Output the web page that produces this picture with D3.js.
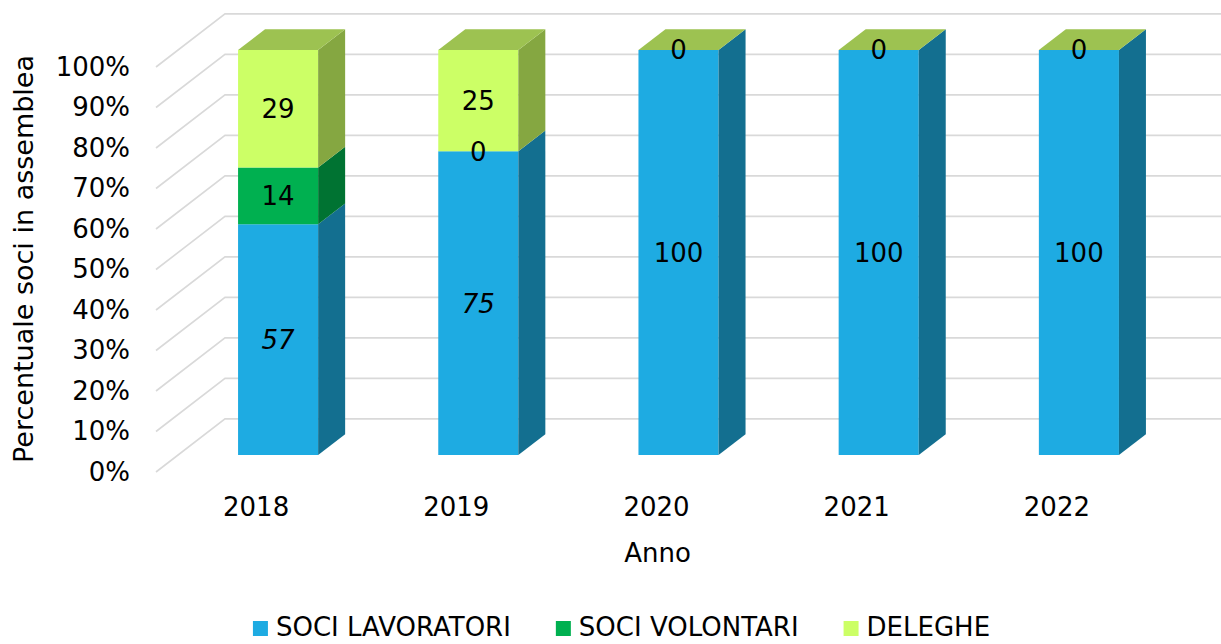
<!DOCTYPE html>
<html>
<head>
<meta charset="utf-8">
<script src="https://cdnjs.cloudflare.com/ajax/libs/d3/7.8.5/d3.min.js"></script>
<style>
  html, body { margin: 0; padding: 0; background: #fff; }
  svg { display: block; font-family: "DejaVu Sans", sans-serif; }
</style>
</head>
<body>
<div id="chart"></div>
<script>
// data
var years = ["2018", "2019", "2020", "2021", "2022"];
var seriesNames = ["SOCI LAVORATORI", "SOCI VOLONTARI", "DELEGHE"];
var sociLavoratori = [57, 75, 100, 100, 100];
var sociVolontari = [14, 0, 0, 0, 0];
var deleghe = [29, 25, 0, 0, 0];
var yTicks = [0, 10, 20, 30, 40, 50, 60, 70, 80, 90, 100];

var width = 1221,
    height = 644,
    frontLeft = 156,
    frontRight = 1157,
    front0 = 472,
    front100 = 67,
    wallDepth = 69,
    barFront = 22,
    barBack = 49,
    slope = 0.77,
    gridColor = "#d9d9d9",
    fontSize = 26;

// front, side, top colours per series
var colors = [
  { front: "#1eabe2", side: "#136f90", top: "#1585ae" },
  { front: "#00b050", side: "#007332", top: "#009040" },
  { front: "#ccff66", side: "#85a741", top: "#9dc251" }
];
// labels drawn in italic (series index, year)
var italicLabels = [[0, "2018"], [0, "2019"]];

var values = [sociLavoratori, sociVolontari, deleghe];

var svg = d3.select("#chart").append("svg")
  .attr("width", width)
  .attr("height", height);

var x = d3.scaleBand()
  .domain(years)
  .range([frontLeft, frontRight])
  .paddingInner(0.6)
  .paddingOuter(0.3);

var y = d3.scaleLinear()
  .domain([0, 100])
  .range([front0, front100]);

// project a point of the front plane back by depth d
function p(px, py, d) {
  return [px + d, py - d * slope];
}

// gridlines: diagonal on the side wall, then flat along the back wall
var grid = svg.append("g");
yTicks.forEach(function(t) {
  var a = p(frontLeft, y(t), 0),
      b = p(frontLeft, y(t), wallDepth);
  grid.append("path")
    .attr("d", "M" + a + "L" + b + "L" + width + "," + b[1])
    .attr("fill", "none")
    .attr("stroke", gridColor)
    .attr("stroke-width", 1.6);
});

// stacked data
var stacked = years.map(function(yr, i) {
  var acc = 0;
  return seriesNames.map(function(s, k) {
    var v = values[k][i];
    var seg = { year: yr, series: k, value: v, y0: acc, y1: acc + v };
    acc += v;
    return seg;
  });
});

var bars = svg.append("g");
stacked.forEach(function(segs) {
  var x0 = x(segs[0].year),
      x1 = x0 + x.bandwidth();
  var g = bars.append("g");
  segs.forEach(function(s) {
    var c = colors[s.series];
    var f = [p(x0, y(s.y0), barFront), p(x1, y(s.y0), barFront),
             p(x1, y(s.y1), barFront), p(x0, y(s.y1), barFront)];
    g.append("polygon").attr("points", f.join(" ")).attr("fill", c.front);
    var sd = [p(x1, y(s.y0), barFront), p(x1, y(s.y0), barBack),
              p(x1, y(s.y1), barBack), p(x1, y(s.y1), barFront)];
    g.append("polygon").attr("points", sd.join(" ")).attr("fill", c.side);
  });
  var top = segs[segs.length - 1];
  var t = [p(x0, y(top.y1), barFront), p(x1, y(top.y1), barFront),
           p(x1, y(top.y1), barBack), p(x0, y(top.y1), barBack)];
  g.append("polygon").attr("points", t.join(" ")).attr("fill", colors[top.series].top);
});

// data labels
var labels = svg.append("g")
  .attr("font-size", fontSize)
  .attr("fill", "#000")
  .attr("text-anchor", "middle");
stacked.forEach(function(segs) {
  segs.forEach(function(s) {
    if (s.series === 1 && s.value === 0 && segs[2].value === 0) return;
    var pt = p(x(s.year) + x.bandwidth() / 2, y((s.y0 + s.y1) / 2), barFront);
    var it = italicLabels.some(function(d) { return d[0] === s.series && d[1] === s.year; });
    labels.append("text")
      .attr("x", pt[0])
      .attr("y", pt[1])
      .attr("dy", "0.36em")
      .attr("font-style", it ? "italic" : "normal")
      .text(s.value);
  });
});

// y axis
var yAxis = svg.append("g")
  .attr("transform", "translate(" + frontLeft + ",0)")
  .call(d3.axisLeft(y).tickValues(yTicks).tickFormat(function(d) { return d + "%"; })
    .tickSize(0).tickPadding(26));
yAxis.select(".domain").remove();
yAxis.selectAll("text")
  .attr("font-size", fontSize)
  .attr("font-family", "DejaVu Sans, sans-serif")
  .attr("fill", "#000");

// x axis
var xAxis = svg.append("g")
  .attr("transform", "translate(0," + front0 + ")")
  .call(d3.axisBottom(x).tickSize(0).tickPadding(26));
xAxis.select(".domain").remove();
xAxis.selectAll("text")
  .attr("font-size", fontSize)
  .attr("font-family", "DejaVu Sans, sans-serif")
  .attr("fill", "#000");

// axis titles
svg.append("text")
  .attr("x", (frontLeft + frontRight) / 2 + 1)
  .attr("y", 562)
  .attr("text-anchor", "middle")
  .attr("font-size", fontSize)
  .text("Anno");

svg.append("text")
  .attr("transform", "translate(33,259) rotate(-90)")
  .attr("text-anchor", "middle")
  .attr("font-size", 27)
  .text("Percentuale soci in assemblea");

// legend
var legend = svg.append("g").attr("font-size", fontSize);
var lx = 0;
seriesNames.forEach(function(name, k) {
  var item = legend.append("g").attr("transform", "translate(" + lx + ",0)");
  item.append("rect")
    .attr("x", 0).attr("y", 621)
    .attr("width", 15).attr("height", 15)
    .attr("fill", colors[k].front);
  var txt = item.append("text")
    .attr("x", 23).attr("y", 636)
    .text(name);
  lx += 23 + txt.node().getComputedTextLength() + 45;
});
var legendW = lx - 45;
legend.attr("transform", "translate(" + (621.5 - legendW / 2) + ",0)");
</script>
</body>
</html>
